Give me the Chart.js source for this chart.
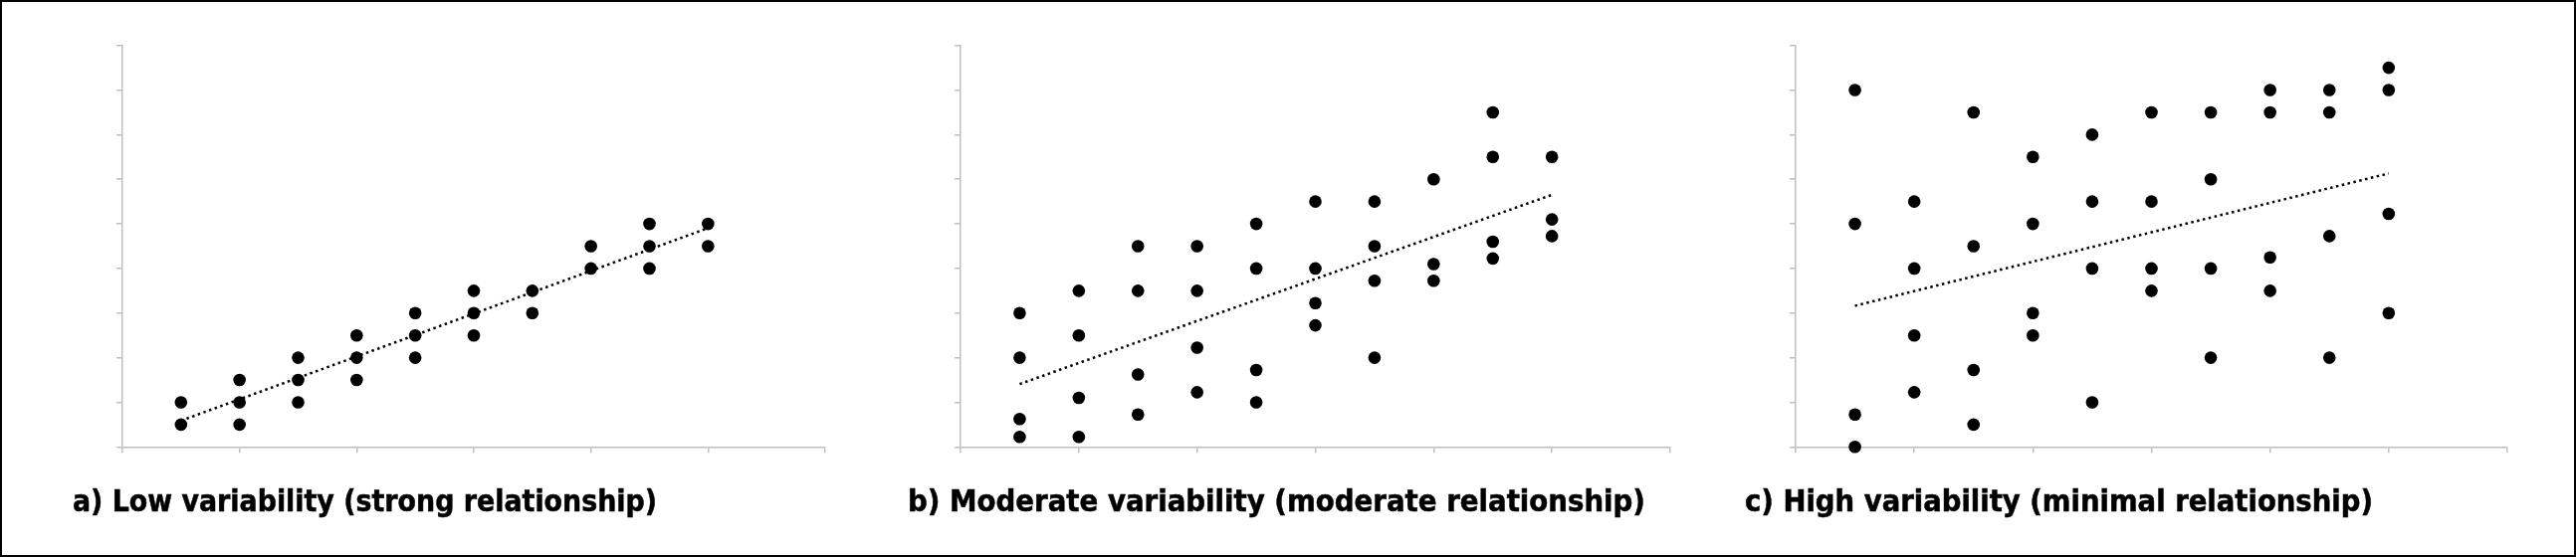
<!DOCTYPE html>
<html>
<head>
<meta charset="utf-8">
<script src="https://cdn.jsdelivr.net/npm/chart.js@4.4.1/dist/chart.umd.min.js"></script>
<style>
  html, body { margin: 0; padding: 0; background: #fff; }
  #frame {
    position: absolute; left: 0; top: 0;
    width: 2588px; height: 560px;
    box-sizing: border-box;
    border: 2px solid #000;
  }
  .panel { position: absolute; top: 0; height: 560px; }
  .caption {
    position: absolute;
    font-family: 'Liberation Sans Narrow', 'DejaVu Sans Condensed', 'Liberation Sans', sans-serif;
    font-weight: bold;
    font-size: 30px;
    line-height: 30px;
    white-space: nowrap;
    color: #000;
    -webkit-text-stroke: 0.5px #000;
    transform-origin: 0 0;
  }
</style>
</head>
<body>
<div id="frame"></div>
<div class="panel" style="left:0px;width:862px"><canvas id="chartA"></canvas></div>
<div class="panel" style="left:862px;width:860px"><canvas id="chartB"></canvas></div>
<div class="panel" style="left:1722px;width:862px"><canvas id="chartC"></canvas></div>
<div class="caption" id="capA" style="left:73px;top:489px"></div>
<div class="caption" id="capB" style="left:912px;top:489px"></div>
<div class="caption" id="capC" style="left:1753px;top:489px"></div>
<script>
'use strict';

// values
let captions = [
  'a) Low variability (strong relationship)',
  'b) Moderate variability (moderate relationship)',
  'c) High variability (minimal relationship)'
];
// how wide each caption runs in the picture
let captionWidths = [587, 741, 631];

let xMax = 12;
let xStep = 2;
let yMax = 18;
let yStep = 2;

let aX = [1, 1, 2, 2, 2, 3, 3, 3, 4, 4, 4, 5, 5, 5, 6, 6, 6, 7, 7, 8, 8, 9, 9, 9, 10, 10];
let aY = [1, 2, 1, 2, 3, 2, 3, 4, 3, 4, 5, 4, 5, 6, 5, 6, 7, 6, 7, 8, 9, 8, 9, 10, 9, 10];

let bX = [1, 1, 1, 1, 2, 2, 2, 2, 3, 3, 3, 3, 4, 4, 4, 4, 5, 5, 5, 5,
  6, 6, 6, 6, 7, 7, 7, 7, 8, 8, 8, 9, 9, 9, 9, 10, 10, 10];
let bY = [0.45, 1.25, 4, 6, 0.45, 2.2, 5, 7, 1.45, 3.25, 7, 9, 2.45, 4.45, 7, 9, 2, 3.45, 8, 10,
  5.45, 6.45, 8, 11, 4, 7.45, 9, 11, 7.45, 8.2, 12, 8.45, 9.2, 13, 15, 9.45, 10.2, 13];

let cX = [1, 1, 1, 1, 2, 2, 2, 2, 3, 3, 3, 3, 4, 4, 4, 4, 5, 5, 5, 5,
  6, 6, 6, 6, 7, 7, 7, 7, 8, 8, 8, 8, 9, 9, 9, 9, 10, 10, 10, 10];
let cY = [0, 1.45, 10, 16, 2.45, 5, 8, 11, 1, 3.45, 9, 15, 5, 6, 10, 13, 2, 8, 11, 14,
  7, 8, 11, 15, 4, 8, 12, 15, 7, 8.5, 15, 16, 4, 9.45, 15, 16, 6, 10.45, 16, 17];

// plot box of each panel on the page (left, right, top, bottom)
let plotBoxes = [
  [123, 829, 45.7, 449.3],
  [965, 1678, 45.7, 449.3],
  [1804, 2519, 45.7, 449.3]
];
let panelLefts = [0, 862, 1722];
let panelWidths = [862, 860, 862];

let axisGrey = '#bfbfbf';
let scaleBox = 10;

function toPoints(xs, ys) {
  let pts = [];
  for (let i = 0; i < xs.length; i++) {
    pts.push({ x: xs[i], y: ys[i] });
  }
  return pts;
}

// least squares line, drawn from smallest to largest x like a spreadsheet trendline
function trendPoints(xs, ys) {
  let n = xs.length;
  let sx = 0, sy = 0, sxx = 0, sxy = 0;
  for (let i = 0; i < n; i++) {
    sx += xs[i];
    sy += ys[i];
    sxx += xs[i] * xs[i];
    sxy += xs[i] * ys[i];
  }
  let slope = (n * sxy - sx * sy) / (n * sxx - sx * sx);
  let icpt = (sy - slope * sx) / n;
  let lo = Math.min(...xs);
  let hi = Math.max(...xs);
  return [{ x: lo, y: icpt + slope * lo }, { x: hi, y: icpt + slope * hi }];
}

function axisOpts(max, step, horizontal) {
  return {
    type: 'linear',
    min: 0,
    max: max,
    ticks: { display: false, stepSize: step },
    grid: {
      display: true,
      drawOnChartArea: false,
      drawTicks: true,
      tickLength: 6,
      color: axisGrey,
      lineWidth: 1.5
    },
    border: { display: true, color: axisGrey, width: 1.5 },
    afterFit: function (scale) {
      if (horizontal) {
        scale.height = scaleBox;
      } else {
        scale.width = scaleBox;
      }
    }
  };
}

function renderPanel(canvasId, idx, xs, ys) {
  let box = plotBoxes[idx];
  let left = panelLefts[idx];
  let width = panelWidths[idx];

  let cfg = {
    type: 'scatter',
    data: {
      datasets: [
        {
          type: 'line',
          data: trendPoints(xs, ys),
          borderColor: '#000',
          borderWidth: 2.5,
          borderDash: [2.5, 3.5],
          pointRadius: 0,
          fill: false,
          clip: false,
          order: 0
        },
        {
          data: toPoints(xs, ys),
          backgroundColor: '#000',
          borderColor: '#000',
          pointRadius: 6.3,
          pointBorderWidth: 0,
          clip: false,
          order: 1
        }
      ]
    },
    options: {
      responsive: false,
      animation: false,
      devicePixelRatio: 1,
      layout: {
        padding: {
          left: box[0] - left - scaleBox,
          right: left + width - box[1],
          top: box[2],
          bottom: 560 - box[3] - scaleBox
        }
      },
      scales: {
        x: axisOpts(xMax, xStep, true),
        y: axisOpts(yMax, yStep, false)
      },
      plugins: {
        legend: { display: false },
        tooltip: { enabled: false }
      }
    }
  };

  let cnv = document.getElementById(canvasId);
  cnv.width = width;
  cnv.height = 560;
  cnv.style.width = width + 'px';
  cnv.style.height = '560px';
  return new Chart(cnv.getContext('2d'), cfg);
}

renderPanel('chartA', 0, aX, aY);
renderPanel('chartB', 1, bX, bY);
renderPanel('chartC', 2, cX, cY);

// captions: real text, squeezed or stretched to the width seen in the picture
let capIds = ['capA', 'capB', 'capC'];
for (let i = 0; i < capIds.length; i++) {
  let el = document.getElementById(capIds[i]);
  el.textContent = captions[i];
  let w = el.getBoundingClientRect().width;
  if (w > 0) {
    el.style.transform = 'scaleX(' + (captionWidths[i] / w) + ')';
  }
}
</script>
</body>
</html>
